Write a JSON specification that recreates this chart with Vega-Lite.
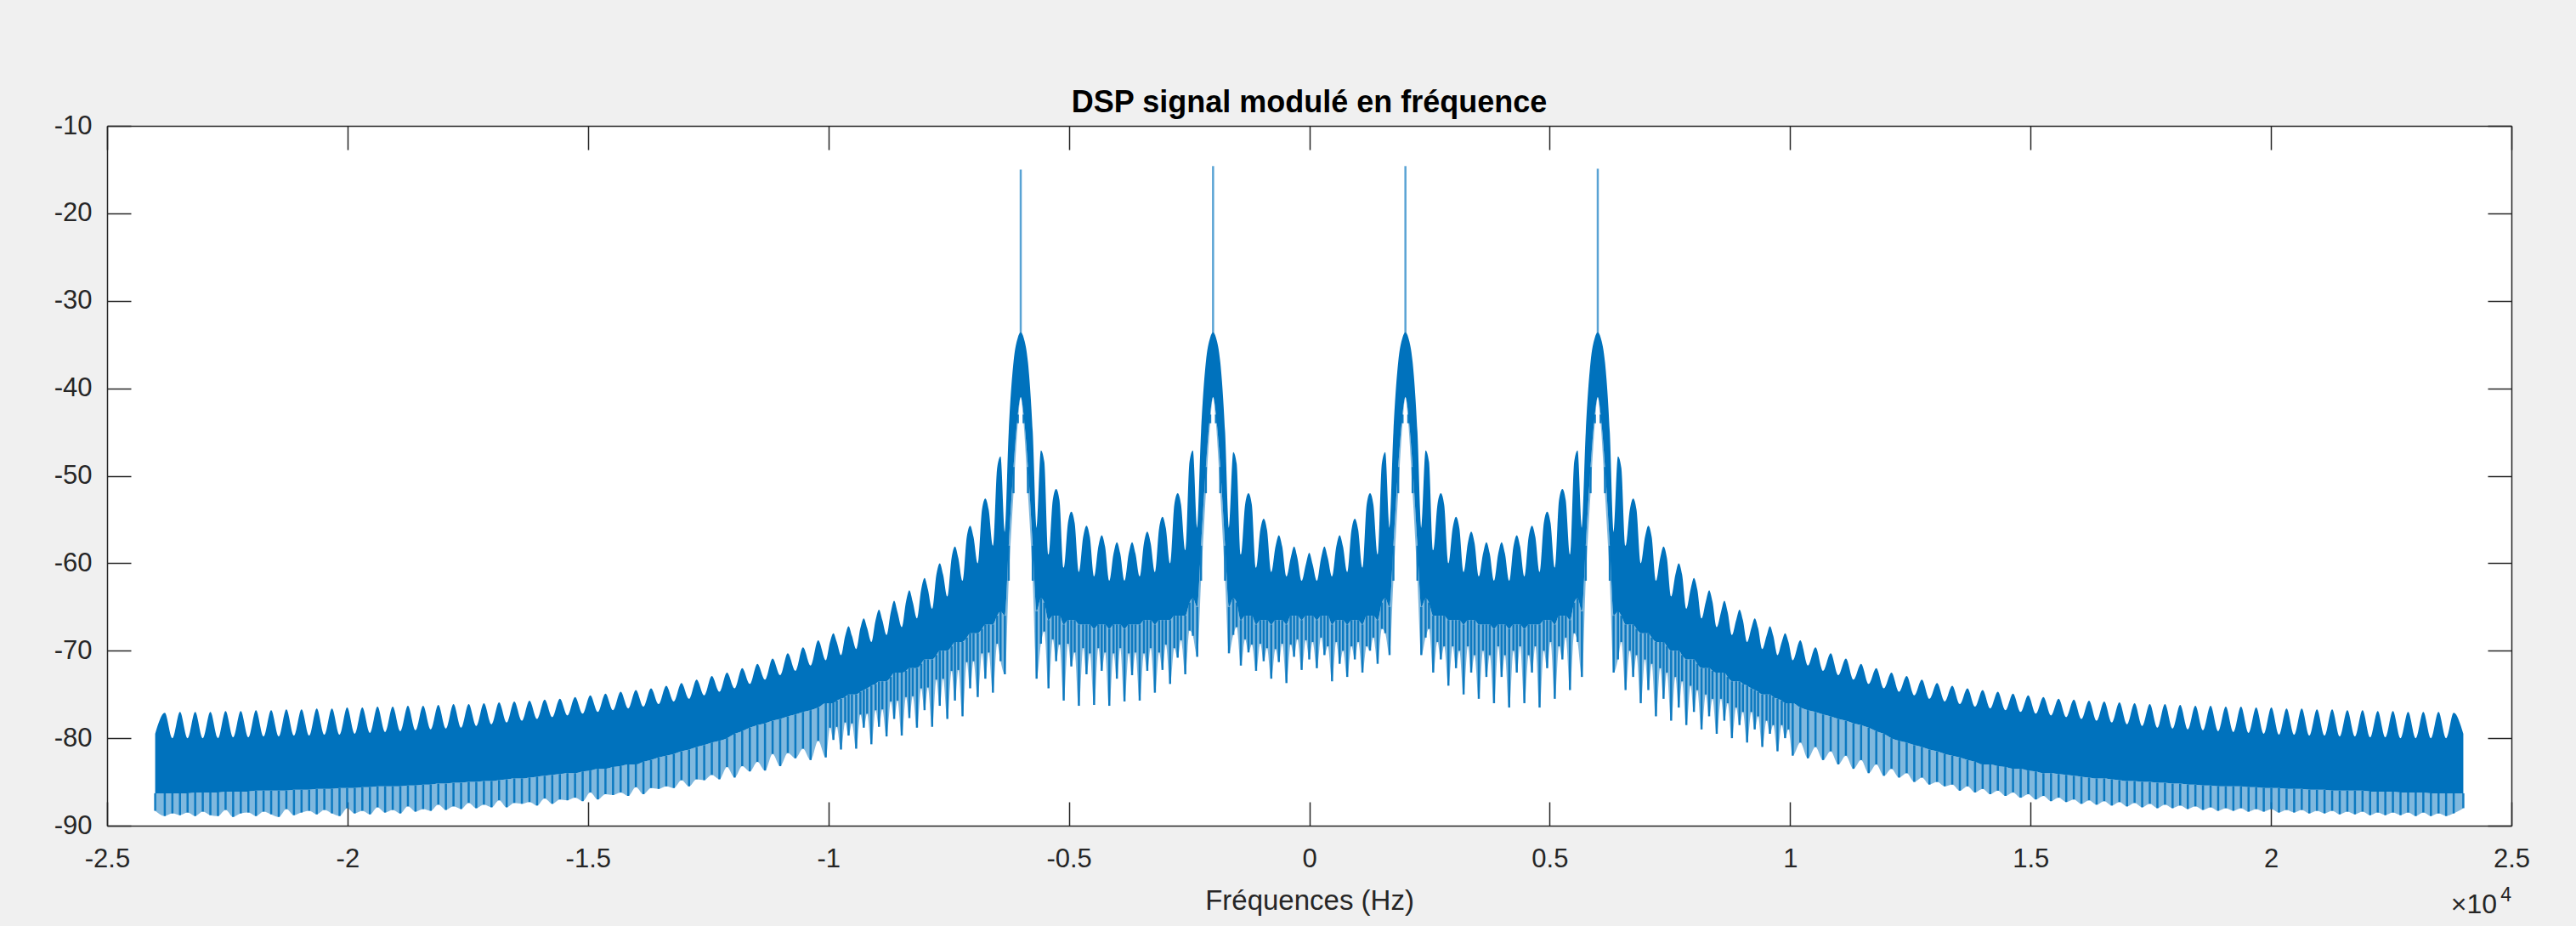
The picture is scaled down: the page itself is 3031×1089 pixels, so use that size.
{
"$schema": "https://vega.github.io/schema/vega-lite/v6.json",
"width": 2829,
"height": 823,
"autosize": {"type": "none"},
"padding": {"left": 126, "top": 148, "right": 76, "bottom": 118},
"background": "#f0f0f0",
"config": {"view": {"fill": "white", "stroke": null}, "font": "Liberation Sans"},
"title": {"text": "DSP signal modulé en fréquence", "fontSize": 36, "fontWeight": "bold", "font": "Liberation Sans", "color": "#000000", "anchor": "middle", "frame": "group", "offset": -8},
"datasets": {
"spec": [
{"f":-24000,"hi":-79.5,"lo":-86.3,"dp":-88.3},
{"f":-23800,"hi":-77.1,"lo":-86.3,"dp":-88.9},
{"f":-23642,"hi":-80.0,"lo":-86.3,"dp":-88.6},
{"f":-23484,"hi":-77.0,"lo":-86.3,"dp":-88.8},
{"f":-23326,"hi":-80.0,"lo":-86.3,"dp":-88.5},
{"f":-23168,"hi":-77.0,"lo":-86.2,"dp":-88.9},
{"f":-23010,"hi":-80.0,"lo":-86.2,"dp":-88.4},
{"f":-22852,"hi":-77.0,"lo":-86.2,"dp":-88.8},
{"f":-22694,"hi":-80.0,"lo":-86.2,"dp":-88.9},
{"f":-22536,"hi":-76.9,"lo":-86.1,"dp":-88.2},
{"f":-22378,"hi":-79.9,"lo":-86.1,"dp":-89.0},
{"f":-22220,"hi":-76.9,"lo":-86.1,"dp":-88.6},
{"f":-22062,"hi":-79.9,"lo":-86.1,"dp":-88.5},
{"f":-21904,"hi":-76.8,"lo":-86.0,"dp":-88.9},
{"f":-21746,"hi":-79.8,"lo":-86.0,"dp":-88.4},
{"f":-21588,"hi":-76.8,"lo":-86.0,"dp":-88.7},
{"f":-21430,"hi":-79.8,"lo":-86.0,"dp":-89.0},
{"f":-21272,"hi":-76.7,"lo":-86.0,"dp":-88.1},
{"f":-21114,"hi":-79.7,"lo":-85.9,"dp":-88.8},
{"f":-20956,"hi":-76.7,"lo":-85.9,"dp":-88.5},
{"f":-20798,"hi":-79.7,"lo":-85.9,"dp":-88.3},
{"f":-20640,"hi":-76.6,"lo":-85.8,"dp":-88.7},
{"f":-20482,"hi":-79.6,"lo":-85.8,"dp":-88.2},
{"f":-20324,"hi":-76.6,"lo":-85.8,"dp":-88.6},
{"f":-20166,"hi":-79.6,"lo":-85.7,"dp":-88.9},
{"f":-20008,"hi":-76.5,"lo":-85.7,"dp":-88.0},
{"f":-19850,"hi":-79.5,"lo":-85.7,"dp":-88.6},
{"f":-19692,"hi":-76.5,"lo":-85.6,"dp":-88.3},
{"f":-19534,"hi":-79.4,"lo":-85.6,"dp":-88.7},
{"f":-19376,"hi":-76.4,"lo":-85.5,"dp":-87.9},
{"f":-19218,"hi":-79.3,"lo":-85.5,"dp":-88.5},
{"f":-19060,"hi":-76.4,"lo":-85.5,"dp":-88.2},
{"f":-18902,"hi":-79.2,"lo":-85.5,"dp":-88.6},
{"f":-18744,"hi":-76.3,"lo":-85.4,"dp":-87.8},
{"f":-18586,"hi":-79.1,"lo":-85.4,"dp":-88.4},
{"f":-18428,"hi":-76.3,"lo":-85.3,"dp":-88.1},
{"f":-18270,"hi":-79.0,"lo":-85.3,"dp":-88.3},
{"f":-18112,"hi":-76.2,"lo":-85.2,"dp":-87.6},
{"f":-17954,"hi":-78.9,"lo":-85.2,"dp":-88.2},
{"f":-17796,"hi":-76.1,"lo":-85.1,"dp":-87.8},
{"f":-17638,"hi":-78.8,"lo":-85.1,"dp":-88.1},
{"f":-17480,"hi":-76.1,"lo":-85.0,"dp":-87.4},
{"f":-17322,"hi":-78.6,"lo":-85.0,"dp":-88.0},
{"f":-17164,"hi":-76.0,"lo":-84.9,"dp":-87.6},
{"f":-17006,"hi":-78.4,"lo":-84.9,"dp":-87.9},
{"f":-16848,"hi":-75.9,"lo":-84.8,"dp":-87.1},
{"f":-16690,"hi":-78.2,"lo":-84.7,"dp":-87.9},
{"f":-16532,"hi":-75.8,"lo":-84.6,"dp":-87.4},
{"f":-16374,"hi":-78.0,"lo":-84.6,"dp":-87.5},
{"f":-16216,"hi":-75.7,"lo":-84.5,"dp":-87.3},
{"f":-16058,"hi":-77.8,"lo":-84.4,"dp":-87.7},
{"f":-15900,"hi":-75.6,"lo":-84.3,"dp":-86.9},
{"f":-15742,"hi":-77.6,"lo":-84.2,"dp":-87.5},
{"f":-15584,"hi":-75.5,"lo":-84.1,"dp":-87.0},
{"f":-15426,"hi":-77.4,"lo":-84.0,"dp":-87.1},
{"f":-15268,"hi":-75.3,"lo":-84.0,"dp":-86.8},
{"f":-15110,"hi":-77.2,"lo":-83.8,"dp":-87.2},
{"f":-14952,"hi":-75.1,"lo":-83.7,"dp":-86.2},
{"f":-14794,"hi":-77.0,"lo":-83.5,"dp":-87.0},
{"f":-14636,"hi":-74.9,"lo":-83.5,"dp":-86.4},
{"f":-14478,"hi":-76.8,"lo":-83.3,"dp":-86.5},
{"f":-14320,"hi":-74.7,"lo":-83.2,"dp":-86.2},
{"f":-14162,"hi":-76.6,"lo":-83.0,"dp":-86.6},
{"f":-14004,"hi":-74.5,"lo":-83.0,"dp":-85.6},
{"f":-13846,"hi":-76.4,"lo":-82.7,"dp":-86.4},
{"f":-13688,"hi":-74.3,"lo":-82.5,"dp":-85.7},
{"f":-13530,"hi":-76.1,"lo":-82.2,"dp":-85.8},
{"f":-13372,"hi":-74.0,"lo":-82.0,"dp":-85.5},
{"f":-13214,"hi":-75.8,"lo":-81.8,"dp":-85.7},
{"f":-13056,"hi":-73.7,"lo":-81.5,"dp":-84.8},
{"f":-12898,"hi":-75.5,"lo":-81.3,"dp":-85.5},
{"f":-12740,"hi":-73.3,"lo":-81.0,"dp":-84.7},
{"f":-12582,"hi":-75.1,"lo":-80.8,"dp":-84.8},
{"f":-12424,"hi":-72.9,"lo":-80.5,"dp":-84.2},
{"f":-12266,"hi":-74.7,"lo":-80.3,"dp":-84.7},
{"f":-12108,"hi":-72.5,"lo":-80.0,"dp":-83.3},
{"f":-11950,"hi":-74.3,"lo":-79.5,"dp":-84.5},
{"f":-11792,"hi":-72.0,"lo":-79.2,"dp":-83.2},
{"f":-11634,"hi":-73.8,"lo":-78.8,"dp":-83.8},
{"f":-11476,"hi":-71.5,"lo":-78.5,"dp":-82.7},
{"f":-11318,"hi":-73.3,"lo":-78.3,"dp":-83.7},
{"f":-11160,"hi":-70.9,"lo":-78.0,"dp":-81.8},
{"f":-11002,"hi":-72.8,"lo":-77.8,"dp":-83.2},
{"f":-10844,"hi":-70.3,"lo":-77.5,"dp":-81.7},
{"f":-10686,"hi":-72.3,"lo":-77.3,"dp":-82.3},
{"f":-10528,"hi":-69.6,"lo":-77.0,"dp":-81.2},
{"f":-10370,"hi":-71.7,"lo":-76.8,"dp":-82.5},
{"f":-10212,"hi":-68.8,"lo":-76.5,"dp":-80.3},
{"f":-10054,"hi":-71.1,"lo":-76.0,"dp":-82.2},
{"f":-9966,"hi":-69.0,"lo":-76.0,"dp":-78.8},
{"f":-9896,"hi":-68.0,"lo":-76.0,"dp":-80.2},
{"f":-9826,"hi":-69.0,"lo":-75.7,"dp":-78.7},
{"f":-9738,"hi":-70.5,"lo":-75.5,"dp":-81.3},
{"f":-9650,"hi":-68.3,"lo":-75.3,"dp":-78.2},
{"f":-9580,"hi":-67.2,"lo":-75.0,"dp":-79.7},
{"f":-9510,"hi":-68.3,"lo":-75.0,"dp":-78.3},
{"f":-9422,"hi":-69.8,"lo":-75.0,"dp":-81.2},
{"f":-9334,"hi":-67.4,"lo":-74.7,"dp":-77.3},
{"f":-9264,"hi":-66.3,"lo":-74.5,"dp":-78.8},
{"f":-9194,"hi":-67.4,"lo":-74.3,"dp":-77.2},
{"f":-9106,"hi":-69.0,"lo":-74.0,"dp":-80.7},
{"f":-9018,"hi":-66.5,"lo":-73.8,"dp":-76.8},
{"f":-8948,"hi":-65.3,"lo":-73.5,"dp":-78.7},
{"f":-8878,"hi":-66.5,"lo":-73.5,"dp":-76.7},
{"f":-8790,"hi":-68.2,"lo":-73.5,"dp":-79.8},
{"f":-8702,"hi":-65.6,"lo":-73.0,"dp":-75.8},
{"f":-8632,"hi":-64.3,"lo":-72.5,"dp":-77.8},
{"f":-8562,"hi":-65.6,"lo":-72.5,"dp":-75.7},
{"f":-8474,"hi":-67.3,"lo":-72.5,"dp":-79.7},
{"f":-8386,"hi":-64.4,"lo":-72.3,"dp":-75.3},
{"f":-8316,"hi":-63.1,"lo":-72.0,"dp":-77.7},
{"f":-8246,"hi":-64.4,"lo":-72.0,"dp":-75.2},
{"f":-8158,"hi":-66.3,"lo":-72.0,"dp":-78.8},
{"f":-8070,"hi":-63.0,"lo":-71.5,"dp":-74.3},
{"f":-8000,"hi":-61.7,"lo":-71.0,"dp":-76.8},
{"f":-7930,"hi":-63.0,"lo":-71.0,"dp":-74.2},
{"f":-7842,"hi":-65.2,"lo":-71.0,"dp":-78.7},
{"f":-7754,"hi":-61.3,"lo":-70.5,"dp":-73.3},
{"f":-7684,"hi":-60.0,"lo":-70.0,"dp":-76.3},
{"f":-7614,"hi":-61.3,"lo":-70.0,"dp":-73.2},
{"f":-7526,"hi":-63.8,"lo":-70.0,"dp":-77.8},
{"f":-7438,"hi":-59.4,"lo":-69.5,"dp":-72.3},
{"f":-7368,"hi":-58.1,"lo":-69.0,"dp":-75.7},
{"f":-7298,"hi":-59.4,"lo":-69.0,"dp":-72.2},
{"f":-7210,"hi":-62.0,"lo":-69.0,"dp":-77.5},
{"f":-7122,"hi":-57.0,"lo":-68.5,"dp":-71.3},
{"f":-7052,"hi":-55.7,"lo":-68.0,"dp":-74.3},
{"f":-6982,"hi":-57.0,"lo":-68.0,"dp":-71.2},
{"f":-6894,"hi":-60.0,"lo":-68.0,"dp":-75.3},
{"f":-6806,"hi":-53.9,"lo":-67.5,"dp":-70.3},
{"f":-6736,"hi":-52.6,"lo":-67.0,"dp":-73.2},
{"f":-6666,"hi":-53.9,"lo":-67.0,"dp":-70.2},
{"f":-6578,"hi":-58.0,"lo":-67.0,"dp":-74.8},
{"f":-6490,"hi":-49.1,"lo":-66.0,"dp":-69.2},
{"f":-6420,"hi":-47.8,"lo":-65.5,"dp":-71.2},
{"f":-6330,"hi":-56.5,"lo":-66.0,"dp":-72.7},
{"f":-6250,"hi":-45.0,"lo":-58.0,"dp":-62.0},
{"f":-6150,"hi":-37.0,"lo":-49.0,"dp":-52.0},
{"f":-6060,"hi":-34.2,"lo":-43.0,"dp":-44.0},
{"f":-6000,"hi":-33.6,"lo":-41.0,"dp":-41.0},
{"f":-5940,"hi":-34.2,"lo":-43.0,"dp":-44.0},
{"f":-5850,"hi":-37.0,"lo":-49.0,"dp":-52.0},
{"f":-5750,"hi":-45.0,"lo":-58.0,"dp":-62.0},
{"f":-5670,"hi":-56.0,"lo":-65.5,"dp":-73.2},
{"f":-5580,"hi":-47.1,"lo":-64.0,"dp":-69.2},
{"f":-5510,"hi":-48.4,"lo":-64.5,"dp":-67.8},
{"f":-5422,"hi":-59.0,"lo":-66.5,"dp":-74.3},
{"f":-5334,"hi":-52.8,"lo":-66.0,"dp":-68.7},
{"f":-5264,"hi":-51.5,"lo":-66.0,"dp":-71.2},
{"f":-5194,"hi":-52.8,"lo":-66.0,"dp":-69.3},
{"f":-5106,"hi":-60.5,"lo":-67.0,"dp":-75.7},
{"f":-5018,"hi":-55.4,"lo":-66.5,"dp":-69.2},
{"f":-4948,"hi":-54.1,"lo":-66.5,"dp":-71.8},
{"f":-4878,"hi":-55.4,"lo":-66.5,"dp":-70.2},
{"f":-4790,"hi":-61.0,"lo":-67.0,"dp":-76.3},
{"f":-4702,"hi":-57.0,"lo":-67.0,"dp":-69.7},
{"f":-4632,"hi":-55.7,"lo":-67.0,"dp":-72.7},
{"f":-4562,"hi":-57.0,"lo":-67.0,"dp":-70.3},
{"f":-4474,"hi":-61.5,"lo":-67.5,"dp":-76.2},
{"f":-4386,"hi":-58.1,"lo":-67.0,"dp":-69.7},
{"f":-4316,"hi":-56.8,"lo":-67.0,"dp":-72.3},
{"f":-4246,"hi":-58.1,"lo":-67.0,"dp":-70.2},
{"f":-4158,"hi":-62.0,"lo":-67.5,"dp":-76.3},
{"f":-4070,"hi":-58.9,"lo":-67.0,"dp":-70.3},
{"f":-4000,"hi":-57.6,"lo":-67.0,"dp":-73.2},
{"f":-3930,"hi":-58.9,"lo":-67.0,"dp":-69.7},
{"f":-3842,"hi":-62.0,"lo":-67.5,"dp":-75.8},
{"f":-3754,"hi":-58.9,"lo":-67.0,"dp":-70.3},
{"f":-3684,"hi":-57.6,"lo":-67.0,"dp":-72.8},
{"f":-3614,"hi":-58.9,"lo":-67.0,"dp":-70.2},
{"f":-3526,"hi":-61.5,"lo":-67.0,"dp":-75.7},
{"f":-3438,"hi":-57.7,"lo":-66.5,"dp":-70.3},
{"f":-3368,"hi":-56.4,"lo":-66.5,"dp":-72.3},
{"f":-3298,"hi":-57.7,"lo":-66.5,"dp":-69.7},
{"f":-3210,"hi":-61.0,"lo":-67.0,"dp":-74.8},
{"f":-3122,"hi":-56.0,"lo":-66.5,"dp":-70.2},
{"f":-3052,"hi":-54.7,"lo":-66.5,"dp":-72.2},
{"f":-2982,"hi":-56.0,"lo":-66.5,"dp":-69.3},
{"f":-2894,"hi":-60.0,"lo":-66.5,"dp":-73.8},
{"f":-2806,"hi":-53.3,"lo":-66.0,"dp":-69.7},
{"f":-2736,"hi":-52.0,"lo":-66.0,"dp":-70.8},
{"f":-2666,"hi":-53.3,"lo":-66.0,"dp":-68.8},
{"f":-2578,"hi":-58.5,"lo":-66.0,"dp":-72.7},
{"f":-2490,"hi":-48.4,"lo":-64.5,"dp":-67.7},
{"f":-2420,"hi":-47.1,"lo":-64.0,"dp":-68.3},
{"f":-2330,"hi":-56.0,"lo":-65.0,"dp":-70.7},
{"f":-2250,"hi":-45.0,"lo":-58.0,"dp":-62.0},
{"f":-2150,"hi":-37.0,"lo":-49.0,"dp":-52.0},
{"f":-2060,"hi":-34.2,"lo":-43.0,"dp":-44.0},
{"f":-2000,"hi":-33.6,"lo":-41.0,"dp":-41.0},
{"f":-1940,"hi":-34.2,"lo":-43.0,"dp":-44.0},
{"f":-1850,"hi":-37.0,"lo":-49.0,"dp":-52.0},
{"f":-1750,"hi":-45.0,"lo":-58.0,"dp":-62.0},
{"f":-1670,"hi":-56.0,"lo":-65.0,"dp":-70.3},
{"f":-1580,"hi":-47.3,"lo":-64.0,"dp":-68.2},
{"f":-1510,"hi":-48.6,"lo":-64.5,"dp":-67.3},
{"f":-1422,"hi":-59.0,"lo":-66.5,"dp":-71.7},
{"f":-1334,"hi":-53.3,"lo":-66.0,"dp":-68.7},
{"f":-1264,"hi":-52.0,"lo":-66.0,"dp":-70.2},
{"f":-1194,"hi":-53.3,"lo":-66.0,"dp":-69.3},
{"f":-1106,"hi":-60.5,"lo":-67.0,"dp":-72.3},
{"f":-1018,"hi":-56.2,"lo":-66.5,"dp":-69.2},
{"f":-948,"hi":-54.9,"lo":-66.5,"dp":-71.2},
{"f":-878,"hi":-56.2,"lo":-66.5,"dp":-69.7},
{"f":-790,"hi":-61.0,"lo":-67.0,"dp":-73.2},
{"f":-702,"hi":-58.1,"lo":-66.5,"dp":-69.8},
{"f":-632,"hi":-56.8,"lo":-66.5,"dp":-71.3},
{"f":-562,"hi":-58.1,"lo":-66.5,"dp":-69.2},
{"f":-474,"hi":-61.5,"lo":-67.0,"dp":-73.7},
{"f":-386,"hi":-59.4,"lo":-66.0,"dp":-69.3},
{"f":-316,"hi":-58.1,"lo":-66.0,"dp":-70.7},
{"f":-246,"hi":-59.4,"lo":-66.0,"dp":-68.7},
{"f":-158,"hi":-62.0,"lo":-66.5,"dp":-72.2},
{"f":-70,"hi":-60.1,"lo":-66.0,"dp":-68.8},
{"f":0,"hi":-58.8,"lo":-66.0,"dp":-71.0},
{"f":70,"hi":-60.1,"lo":-66.0,"dp":-69.0},
{"f":158,"hi":-62.0,"lo":-66.5,"dp":-72.0},
{"f":246,"hi":-59.4,"lo":-66.0,"dp":-68.5},
{"f":316,"hi":-58.1,"lo":-66.0,"dp":-70.5},
{"f":386,"hi":-59.4,"lo":-66.0,"dp":-69.5},
{"f":474,"hi":-61.5,"lo":-67.0,"dp":-73.5},
{"f":562,"hi":-58.1,"lo":-66.5,"dp":-69.0},
{"f":632,"hi":-56.8,"lo":-66.5,"dp":-71.5},
{"f":702,"hi":-58.1,"lo":-66.5,"dp":-70.0},
{"f":790,"hi":-61.0,"lo":-67.0,"dp":-73.0},
{"f":878,"hi":-56.2,"lo":-66.5,"dp":-69.5},
{"f":948,"hi":-54.9,"lo":-66.5,"dp":-71.0},
{"f":1018,"hi":-56.2,"lo":-66.5,"dp":-69.0},
{"f":1106,"hi":-60.5,"lo":-67.0,"dp":-72.5},
{"f":1194,"hi":-53.3,"lo":-66.0,"dp":-69.5},
{"f":1264,"hi":-52.0,"lo":-66.0,"dp":-70.0},
{"f":1334,"hi":-53.3,"lo":-66.0,"dp":-68.5},
{"f":1422,"hi":-59.0,"lo":-66.5,"dp":-71.5},
{"f":1510,"hi":-48.6,"lo":-64.5,"dp":-67.5},
{"f":1580,"hi":-47.3,"lo":-64.0,"dp":-68.0},
{"f":1670,"hi":-56.0,"lo":-65.0,"dp":-70.5},
{"f":1750,"hi":-45.0,"lo":-58.0,"dp":-62.0},
{"f":1850,"hi":-37.0,"lo":-49.0,"dp":-52.0},
{"f":1940,"hi":-34.2,"lo":-43.0,"dp":-44.0},
{"f":2000,"hi":-33.6,"lo":-41.0,"dp":-41.0},
{"f":2060,"hi":-34.2,"lo":-43.0,"dp":-44.0},
{"f":2150,"hi":-37.0,"lo":-49.0,"dp":-52.0},
{"f":2250,"hi":-45.0,"lo":-58.0,"dp":-62.0},
{"f":2330,"hi":-56.0,"lo":-65.0,"dp":-70.5},
{"f":2420,"hi":-47.1,"lo":-64.0,"dp":-68.5},
{"f":2490,"hi":-48.4,"lo":-64.5,"dp":-67.5},
{"f":2578,"hi":-58.5,"lo":-66.0,"dp":-72.5},
{"f":2666,"hi":-53.3,"lo":-66.0,"dp":-69.0},
{"f":2736,"hi":-52.0,"lo":-66.0,"dp":-71.0},
{"f":2806,"hi":-53.3,"lo":-66.0,"dp":-69.5},
{"f":2894,"hi":-60.0,"lo":-66.5,"dp":-74.0},
{"f":2982,"hi":-56.0,"lo":-66.5,"dp":-69.5},
{"f":3052,"hi":-54.7,"lo":-66.5,"dp":-72.0},
{"f":3122,"hi":-56.0,"lo":-66.5,"dp":-70.0},
{"f":3210,"hi":-61.0,"lo":-67.0,"dp":-75.0},
{"f":3298,"hi":-57.7,"lo":-66.5,"dp":-69.5},
{"f":3368,"hi":-56.4,"lo":-66.5,"dp":-72.5},
{"f":3438,"hi":-57.7,"lo":-66.5,"dp":-70.5},
{"f":3526,"hi":-61.5,"lo":-67.0,"dp":-75.5},
{"f":3614,"hi":-58.9,"lo":-67.0,"dp":-70.0},
{"f":3684,"hi":-57.6,"lo":-67.0,"dp":-73.0},
{"f":3754,"hi":-58.9,"lo":-67.0,"dp":-70.5},
{"f":3842,"hi":-62.0,"lo":-67.5,"dp":-76.0},
{"f":3930,"hi":-58.9,"lo":-67.0,"dp":-69.5},
{"f":4000,"hi":-57.6,"lo":-67.0,"dp":-73.0},
{"f":4070,"hi":-58.9,"lo":-67.0,"dp":-70.5},
{"f":4158,"hi":-62.0,"lo":-67.5,"dp":-76.5},
{"f":4246,"hi":-58.1,"lo":-67.0,"dp":-70.0},
{"f":4316,"hi":-56.8,"lo":-67.0,"dp":-72.5},
{"f":4386,"hi":-58.1,"lo":-67.0,"dp":-69.5},
{"f":4474,"hi":-61.5,"lo":-67.5,"dp":-76.0},
{"f":4562,"hi":-57.0,"lo":-67.0,"dp":-70.5},
{"f":4632,"hi":-55.7,"lo":-67.0,"dp":-72.5},
{"f":4702,"hi":-57.0,"lo":-67.0,"dp":-69.5},
{"f":4790,"hi":-61.0,"lo":-67.0,"dp":-76.5},
{"f":4878,"hi":-55.4,"lo":-66.5,"dp":-70.0},
{"f":4948,"hi":-54.1,"lo":-66.5,"dp":-72.0},
{"f":5018,"hi":-55.4,"lo":-66.5,"dp":-69.0},
{"f":5106,"hi":-60.5,"lo":-67.0,"dp":-75.5},
{"f":5194,"hi":-52.8,"lo":-66.0,"dp":-69.5},
{"f":5264,"hi":-51.5,"lo":-66.0,"dp":-71.0},
{"f":5334,"hi":-52.8,"lo":-66.0,"dp":-68.5},
{"f":5422,"hi":-59.0,"lo":-66.5,"dp":-74.5},
{"f":5510,"hi":-48.4,"lo":-64.5,"dp":-68.0},
{"f":5580,"hi":-47.1,"lo":-64.0,"dp":-69.0},
{"f":5670,"hi":-56.0,"lo":-65.5,"dp":-73.0},
{"f":5750,"hi":-45.0,"lo":-58.0,"dp":-62.0},
{"f":5850,"hi":-37.0,"lo":-49.0,"dp":-52.0},
{"f":5940,"hi":-34.2,"lo":-43.0,"dp":-44.0},
{"f":6000,"hi":-33.6,"lo":-41.0,"dp":-41.0},
{"f":6060,"hi":-34.2,"lo":-43.0,"dp":-44.0},
{"f":6150,"hi":-37.0,"lo":-49.0,"dp":-52.0},
{"f":6250,"hi":-45.0,"lo":-58.0,"dp":-62.0},
{"f":6330,"hi":-56.5,"lo":-66.0,"dp":-72.5},
{"f":6420,"hi":-47.8,"lo":-65.5,"dp":-71.0},
{"f":6490,"hi":-49.1,"lo":-66.0,"dp":-69.0},
{"f":6578,"hi":-58.0,"lo":-67.0,"dp":-74.5},
{"f":6666,"hi":-53.9,"lo":-67.0,"dp":-70.0},
{"f":6736,"hi":-52.6,"lo":-67.0,"dp":-73.0},
{"f":6806,"hi":-53.9,"lo":-67.5,"dp":-70.5},
{"f":6894,"hi":-60.0,"lo":-68.0,"dp":-76.0},
{"f":6982,"hi":-57.0,"lo":-68.0,"dp":-71.0},
{"f":7052,"hi":-55.7,"lo":-68.0,"dp":-74.5},
{"f":7122,"hi":-57.0,"lo":-68.5,"dp":-71.5},
{"f":7210,"hi":-62.0,"lo":-69.0,"dp":-77.5},
{"f":7298,"hi":-59.4,"lo":-69.0,"dp":-72.0},
{"f":7368,"hi":-58.1,"lo":-69.0,"dp":-75.5},
{"f":7438,"hi":-59.4,"lo":-69.5,"dp":-72.5},
{"f":7526,"hi":-63.8,"lo":-70.0,"dp":-78.0},
{"f":7614,"hi":-61.3,"lo":-70.0,"dp":-73.0},
{"f":7684,"hi":-60.0,"lo":-70.0,"dp":-76.5},
{"f":7754,"hi":-61.3,"lo":-70.5,"dp":-73.5},
{"f":7842,"hi":-65.2,"lo":-71.0,"dp":-78.5},
{"f":7930,"hi":-63.0,"lo":-71.0,"dp":-74.0},
{"f":8000,"hi":-61.7,"lo":-71.0,"dp":-77.0},
{"f":8070,"hi":-63.0,"lo":-71.5,"dp":-74.5},
{"f":8158,"hi":-66.3,"lo":-72.0,"dp":-79.0},
{"f":8246,"hi":-64.4,"lo":-72.0,"dp":-75.0},
{"f":8316,"hi":-63.1,"lo":-72.0,"dp":-77.5},
{"f":8386,"hi":-64.4,"lo":-72.3,"dp":-75.5},
{"f":8474,"hi":-67.3,"lo":-72.5,"dp":-79.5},
{"f":8562,"hi":-65.6,"lo":-72.5,"dp":-75.5},
{"f":8632,"hi":-64.3,"lo":-72.5,"dp":-78.0},
{"f":8702,"hi":-65.6,"lo":-73.0,"dp":-76.0},
{"f":8790,"hi":-68.2,"lo":-73.5,"dp":-80.0},
{"f":8878,"hi":-66.5,"lo":-73.5,"dp":-76.5},
{"f":8948,"hi":-65.3,"lo":-73.5,"dp":-78.5},
{"f":9018,"hi":-66.5,"lo":-73.8,"dp":-77.0},
{"f":9106,"hi":-69.0,"lo":-74.0,"dp":-80.5},
{"f":9194,"hi":-67.4,"lo":-74.3,"dp":-77.0},
{"f":9264,"hi":-66.3,"lo":-74.5,"dp":-79.0},
{"f":9334,"hi":-67.4,"lo":-74.7,"dp":-77.5},
{"f":9422,"hi":-69.8,"lo":-75.0,"dp":-81.0},
{"f":9510,"hi":-68.3,"lo":-75.0,"dp":-78.0},
{"f":9580,"hi":-67.2,"lo":-75.0,"dp":-79.5},
{"f":9650,"hi":-68.3,"lo":-75.3,"dp":-78.5},
{"f":9738,"hi":-70.5,"lo":-75.5,"dp":-81.5},
{"f":9826,"hi":-69.0,"lo":-75.7,"dp":-78.5},
{"f":9896,"hi":-68.0,"lo":-76.0,"dp":-80.0},
{"f":9966,"hi":-69.0,"lo":-76.0,"dp":-79.0},
{"f":10054,"hi":-71.1,"lo":-76.0,"dp":-82.0},
{"f":10212,"hi":-68.8,"lo":-76.5,"dp":-80.5},
{"f":10370,"hi":-71.7,"lo":-76.8,"dp":-82.3},
{"f":10528,"hi":-69.6,"lo":-77.0,"dp":-81.0},
{"f":10686,"hi":-72.3,"lo":-77.3,"dp":-82.5},
{"f":10844,"hi":-70.3,"lo":-77.5,"dp":-81.5},
{"f":11002,"hi":-72.8,"lo":-77.8,"dp":-83.0},
{"f":11160,"hi":-70.9,"lo":-78.0,"dp":-82.0},
{"f":11318,"hi":-73.3,"lo":-78.3,"dp":-83.5},
{"f":11476,"hi":-71.5,"lo":-78.5,"dp":-82.5},
{"f":11634,"hi":-73.8,"lo":-78.8,"dp":-84.0},
{"f":11792,"hi":-72.0,"lo":-79.2,"dp":-83.0},
{"f":11950,"hi":-74.3,"lo":-79.5,"dp":-84.3},
{"f":12108,"hi":-72.5,"lo":-80.0,"dp":-83.5},
{"f":12266,"hi":-74.7,"lo":-80.3,"dp":-84.5},
{"f":12424,"hi":-72.9,"lo":-80.5,"dp":-84.0},
{"f":12582,"hi":-75.1,"lo":-80.8,"dp":-85.0},
{"f":12740,"hi":-73.3,"lo":-81.0,"dp":-84.5},
{"f":12898,"hi":-75.5,"lo":-81.3,"dp":-85.3},
{"f":13056,"hi":-73.7,"lo":-81.5,"dp":-85.0},
{"f":13214,"hi":-75.8,"lo":-81.8,"dp":-85.5},
{"f":13372,"hi":-74.0,"lo":-82.0,"dp":-85.3},
{"f":13530,"hi":-76.1,"lo":-82.2,"dp":-86.0},
{"f":13688,"hi":-74.3,"lo":-82.5,"dp":-85.5},
{"f":13846,"hi":-76.4,"lo":-82.7,"dp":-86.2},
{"f":14004,"hi":-74.5,"lo":-83.0,"dp":-85.8},
{"f":14162,"hi":-76.6,"lo":-83.0,"dp":-86.4},
{"f":14320,"hi":-74.7,"lo":-83.2,"dp":-86.0},
{"f":14478,"hi":-76.8,"lo":-83.3,"dp":-86.6},
{"f":14636,"hi":-74.9,"lo":-83.5,"dp":-86.2},
{"f":14794,"hi":-77.0,"lo":-83.5,"dp":-86.8},
{"f":14952,"hi":-75.1,"lo":-83.7,"dp":-86.4},
{"f":15110,"hi":-77.2,"lo":-83.8,"dp":-87.0},
{"f":15268,"hi":-75.3,"lo":-84.0,"dp":-86.6},
{"f":15426,"hi":-77.4,"lo":-84.0,"dp":-87.2},
{"f":15584,"hi":-75.5,"lo":-84.1,"dp":-86.8},
{"f":15742,"hi":-77.6,"lo":-84.2,"dp":-87.3},
{"f":15900,"hi":-75.6,"lo":-84.3,"dp":-87.0},
{"f":16058,"hi":-77.8,"lo":-84.4,"dp":-87.5},
{"f":16216,"hi":-75.7,"lo":-84.5,"dp":-87.1},
{"f":16374,"hi":-78.0,"lo":-84.6,"dp":-87.6},
{"f":16532,"hi":-75.8,"lo":-84.6,"dp":-87.2},
{"f":16690,"hi":-78.2,"lo":-84.7,"dp":-87.7},
{"f":16848,"hi":-75.9,"lo":-84.8,"dp":-87.3},
{"f":17006,"hi":-78.4,"lo":-84.9,"dp":-87.8},
{"f":17164,"hi":-76.0,"lo":-84.9,"dp":-87.4},
{"f":17322,"hi":-78.6,"lo":-85.0,"dp":-87.9},
{"f":17480,"hi":-76.1,"lo":-85.0,"dp":-87.5},
{"f":17638,"hi":-78.8,"lo":-85.1,"dp":-88.0},
{"f":17796,"hi":-76.1,"lo":-85.1,"dp":-87.6},
{"f":17954,"hi":-78.9,"lo":-85.2,"dp":-88.0},
{"f":18112,"hi":-76.2,"lo":-85.2,"dp":-87.7},
{"f":18270,"hi":-79.0,"lo":-85.3,"dp":-88.1},
{"f":18428,"hi":-76.3,"lo":-85.3,"dp":-87.8},
{"f":18586,"hi":-79.1,"lo":-85.4,"dp":-88.2},
{"f":18744,"hi":-76.3,"lo":-85.4,"dp":-87.9},
{"f":18902,"hi":-79.2,"lo":-85.5,"dp":-88.3},
{"f":19060,"hi":-76.4,"lo":-85.5,"dp":-88.0},
{"f":19218,"hi":-79.3,"lo":-85.5,"dp":-88.3},
{"f":19376,"hi":-76.4,"lo":-85.5,"dp":-88.0},
{"f":19534,"hi":-79.4,"lo":-85.6,"dp":-88.4},
{"f":19692,"hi":-76.5,"lo":-85.6,"dp":-88.1},
{"f":19850,"hi":-79.5,"lo":-85.7,"dp":-88.4},
{"f":20008,"hi":-76.5,"lo":-85.7,"dp":-88.1},
{"f":20166,"hi":-79.6,"lo":-85.7,"dp":-88.5},
{"f":20324,"hi":-76.6,"lo":-85.8,"dp":-88.2},
{"f":20482,"hi":-79.6,"lo":-85.8,"dp":-88.5},
{"f":20640,"hi":-76.6,"lo":-85.8,"dp":-88.2},
{"f":20798,"hi":-79.7,"lo":-85.9,"dp":-88.6},
{"f":20956,"hi":-76.7,"lo":-85.9,"dp":-88.3},
{"f":21114,"hi":-79.7,"lo":-85.9,"dp":-88.6},
{"f":21272,"hi":-76.7,"lo":-86.0,"dp":-88.3},
{"f":21430,"hi":-79.8,"lo":-86.0,"dp":-88.7},
{"f":21588,"hi":-76.8,"lo":-86.0,"dp":-88.4},
{"f":21746,"hi":-79.8,"lo":-86.0,"dp":-88.7},
{"f":21904,"hi":-76.8,"lo":-86.0,"dp":-88.4},
{"f":22062,"hi":-79.9,"lo":-86.1,"dp":-88.8},
{"f":22220,"hi":-76.9,"lo":-86.1,"dp":-88.5},
{"f":22378,"hi":-79.9,"lo":-86.1,"dp":-88.8},
{"f":22536,"hi":-76.9,"lo":-86.1,"dp":-88.5},
{"f":22694,"hi":-80.0,"lo":-86.2,"dp":-88.8},
{"f":22852,"hi":-77.0,"lo":-86.2,"dp":-88.5},
{"f":23010,"hi":-80.0,"lo":-86.2,"dp":-88.9},
{"f":23168,"hi":-77.0,"lo":-86.2,"dp":-88.5},
{"f":23326,"hi":-80.0,"lo":-86.3,"dp":-88.9},
{"f":23484,"hi":-77.0,"lo":-86.3,"dp":-88.6},
{"f":23642,"hi":-80.0,"lo":-86.3,"dp":-88.9},
{"f":23800,"hi":-77.1,"lo":-86.3,"dp":-88.6},
{"f":24000,"hi":-79.5,"lo":-86.3,"dp":-88.0}
],
"peaks": [
{"f":-6000,"top":-15.0,"base":-34},
{"f":-2000,"top":-14.6,"base":-34},
{"f":2000,"top":-14.6,"base":-34},
{"f":6000,"top":-14.9,"base":-34}
],
"note": [{"f":25000,"d":-90,"t":"×10"}],
"exp": [{"f":25000,"d":-90,"t":"4"}]
},
"layer": [
{
"data": {"name": "spec"},
"mark": {"type": "area", "interpolate": "monotone", "color": "#0072BD", "opacity": 0.5},
"encoding": {
"x": {"field": "f", "type": "quantitative", "scale": {"domain": [-25000, 25000], "nice": false, "zero": false}, "axis": null},
"y": {"field": "dp", "type": "quantitative", "scale": {"domain": [-90, -10], "nice": false, "zero": false}, "axis": null},
"y2": {"field": "lo"}
}
},
{
"data": {"name": "spec"},
"mark": {"type": "area", "interpolate": "monotone", "color": "#0072BD"},
"encoding": {
"x": {"field": "f", "type": "quantitative", "scale": {"domain": [-25000, 25000], "nice": false, "zero": false},
"axis": {"orient": "bottom", "values": [-25000,-20000,-15000,-10000,-5000,0,5000,10000,15000,20000,25000], "labelExpr": "datum.value / 10000", "grid": false, "tickSize": -28, "tickWidth": 1.5, "tickColor": "#262626", "domainColor": "#262626", "domainWidth": 1.5, "labelFont": "Liberation Sans", "labelFontSize": 31, "labelColor": "#262626", "labelPadding": 52, "labelFlush": false, "labelOverlap": false, "labelBound": false, "title": "Fréquences (Hz)", "titleFont": "Liberation Sans", "titleFontSize": 33, "titleFontWeight": "normal", "titleColor": "#262626", "titlePadding": 18}},
"y": {"field": "lo", "type": "quantitative", "scale": {"domain": [-90, -10], "nice": false, "zero": false},
"axis": {"orient": "left", "values": [-90,-80,-70,-60,-50,-40,-30,-20,-10], "labelExpr": "'' + datum.value", "grid": false, "tickSize": -28, "tickWidth": 1.5, "tickColor": "#262626", "domainColor": "#262626", "domainWidth": 1.5, "labelFont": "Liberation Sans", "labelFontSize": 31, "labelColor": "#262626", "labelPadding": 46, "labelFlush": false, "labelOverlap": false, "labelBound": false, "title": null}},
"y2": {"field": "hi"}
}
},
{
"data": {"name": "spec"},
"mark": {"type": "rule", "color": "#0072BD", "strokeWidth": 2.5, "opacity": 0.9},
"encoding": {
"x": {"field": "f", "type": "quantitative", "scale": {"domain": [-25000, 25000], "nice": false, "zero": false},
"axis": {"orient": "top", "values": [-25000,-20000,-15000,-10000,-5000,0,5000,10000,15000,20000,25000], "labels": false, "grid": false, "tickSize": -28, "tickWidth": 1.5, "tickColor": "#262626", "domainColor": "#262626", "domainWidth": 1.5, "title": null}},
"y": {"field": "lo", "type": "quantitative", "scale": {"domain": [-90, -10], "nice": false, "zero": false},
"axis": {"orient": "right", "values": [-90,-80,-70,-60,-50,-40,-30,-20,-10], "labels": false, "grid": false, "tickSize": -28, "tickWidth": 1.5, "tickColor": "#262626", "domainColor": "#262626", "domainWidth": 1.5, "title": null}},
"y2": {"field": "dp"}
}
},
{
"data": {"name": "peaks"},
"mark": {"type": "rule", "color": "#0072BD", "strokeWidth": 2.5, "opacity": 0.65},
"encoding": {
"x": {"field": "f", "type": "quantitative", "axis": null},
"y": {"field": "base", "type": "quantitative", "axis": null},
"y2": {"field": "top"}
}
},
{
"data": {"name": "note"},
"mark": {"type": "text", "align": "right", "baseline": "alphabetic", "dx": -17, "dy": 103, "fontSize": 32, "font": "Liberation Sans", "color": "#262626"},
"encoding": {
"x": {"field": "f", "type": "quantitative", "axis": null},
"y": {"field": "d", "type": "quantitative", "axis": null},
"text": {"field": "t"}
}
},
{
"data": {"name": "exp"},
"mark": {"type": "text", "align": "right", "baseline": "alphabetic", "dx": 0, "dy": 89, "fontSize": 23, "font": "Liberation Sans", "color": "#262626"},
"encoding": {
"x": {"field": "f", "type": "quantitative", "axis": null},
"y": {"field": "d", "type": "quantitative", "axis": null},
"text": {"field": "t"}
}
}
],
"resolve": {"axis": {"x": "independent", "y": "independent"}}
}
